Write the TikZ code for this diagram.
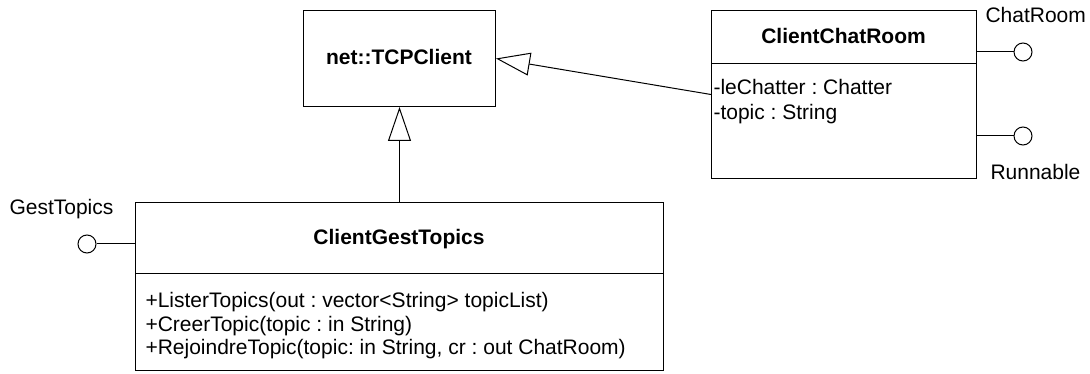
\documentclass[tikz,border=0pt]{standalone}
\usepackage{fontspec}
\setmainfont{Liberation Sans}
\usetikzlibrary{arrows.meta}
\frenchspacing
\begin{document}
\begin{tikzpicture}[x=1pt,y=-1pt,line width=1pt,
  every node/.style={font=\fontsize{21}{23.5}\selectfont},
  classbox/.style={draw, rectangle, inner sep=0pt, anchor=north west},
  txt/.style={inner sep=0pt, anchor=base},
  txtl/.style={inner sep=0pt, anchor=base west},
  lolli/.style={draw, circle, inner sep=0pt, minimum size=18pt},
  inherit/.style={-{Triangle[open, length=34pt, width=23pt]}}]
\useasboundingbox (0,0) rectangle (1090,374);
% boxes
\node[classbox, minimum width=192pt, minimum height=96pt] (tcp) at (303,10) {};
\node[classbox, minimum width=265pt, minimum height=168pt] (ccr) at (711,10) {};
\node[classbox, minimum width=528pt, minimum height=168pt] (cgt) at (135,202) {};
% dividers
\draw ([yshift=-54pt]ccr.north west) -- ([yshift=-54pt]ccr.north east);
\draw ([yshift=-72pt]cgt.north west) -- ([yshift=-72pt]cgt.north east);
% texts
\node[txt] (tcpT) at (399,65) {\bfseries net::TCPClient};
\node[txt] (ccrT) at (843.5,44) {\bfseries ClientChatRoom};
\node[txtl] (ccrA1) at (713,95) {-leChatter : Chatter};
\node[txtl] (ccrA2) at (713,120) {-topic : String};
\node[txt] (cgtT) at (399,245) {\bfseries ClientGestTopics};
\node[txtl] (cgtM1) at (145,307.5) {+ListerTopics(out : vector<String> topicList)};
\node[txtl] (cgtM2) at (145,331) {+CreerTopic(topic : in String)};
\node[txtl] (cgtM3) at (145,354.5) {+RejoindreTopic(topic: in String, cr : out ChatRoom)};
% lollipops
\node[lolli] (lpChat) at (1023,52) {};
\node[lolli] (lpRun) at (1023,136) {};
\node[lolli] (lpGest) at (87,244) {};
\draw (ccr.east |- lpChat) -- (lpChat.west);
\draw (ccr.east |- lpRun) -- (lpRun.west);
\draw (lpGest.east) -- (cgt.west |- lpGest);
\node[txtl] (lChat) at (985,23) {ChatRoom};
\node[txtl] (lRun) at (990,180) {Runnable};
\node[txtl] (lGest) at (9,215) {GestTopics};
% inheritance
\draw[inherit] (ccr.west) -- (tcp.east);
\draw[inherit] (cgt.north) -- (tcp.south);
\end{tikzpicture}
\end{document}
